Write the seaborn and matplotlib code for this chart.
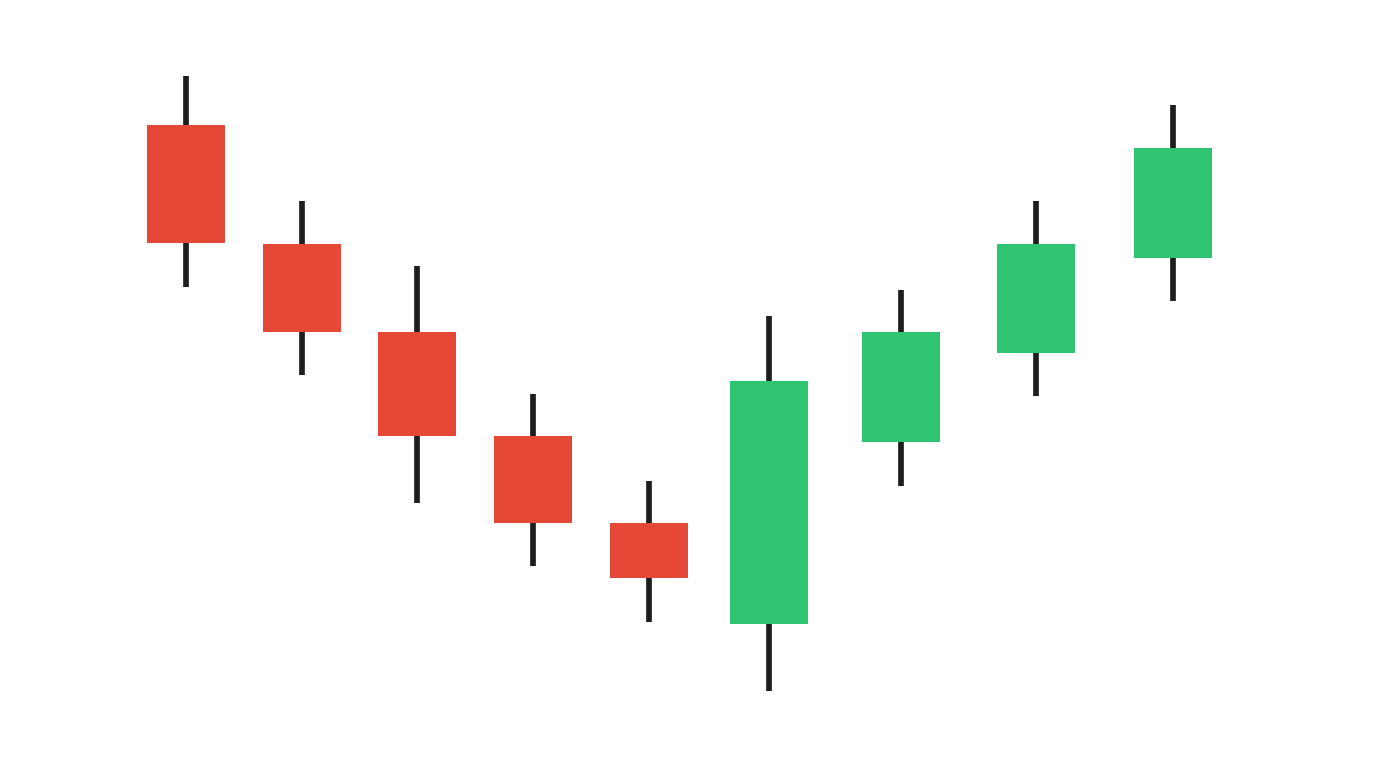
import matplotlib
matplotlib.use("Agg")
import matplotlib.pyplot as plt
import seaborn as sns
import pandas as pd

# Candle positions (time axis) and OHLC values
day = [186, 302, 417, 533, 649, 769, 901, 1036, 1173]
open_ = [643, 524, 436, 332, 245, 144, 326, 415, 510]
high = [692, 567, 502, 374, 287, 452, 478, 567, 663]
low = [481, 393, 265, 202, 146, 77, 282, 372, 467]
close = [525, 436, 332, 245, 190, 387, 436, 524, 620]

df = pd.DataFrame({"day": day, "open": open_, "high": high, "low": low, "close": close})
df["up"] = df["close"] >= df["open"]
df["bottom"] = df[["open", "close"]].min(axis=1)
df["height"] = (df["close"] - df["open"]).abs()

sns.set_theme(style="white")
fig = plt.figure(figsize=(13.76, 7.68), dpi=100)
ax = fig.add_axes([0, 0, 1, 1])

red = "#E54837"
green = "#2EC472"

ax.vlines(df["day"], df["low"], df["high"], color="#1e1e1e", linewidth=4.1, zorder=1)
colors = [green if u else red for u in df["up"]]
ax.bar(df["day"], df["height"], bottom=df["bottom"], width=78, color=colors,
       linewidth=0, zorder=2)

ax.set_xlim(0, 1376)
ax.set_ylim(0, 768)
ax.axis("off")
fig.savefig("out.png", dpi=100, facecolor="white")
